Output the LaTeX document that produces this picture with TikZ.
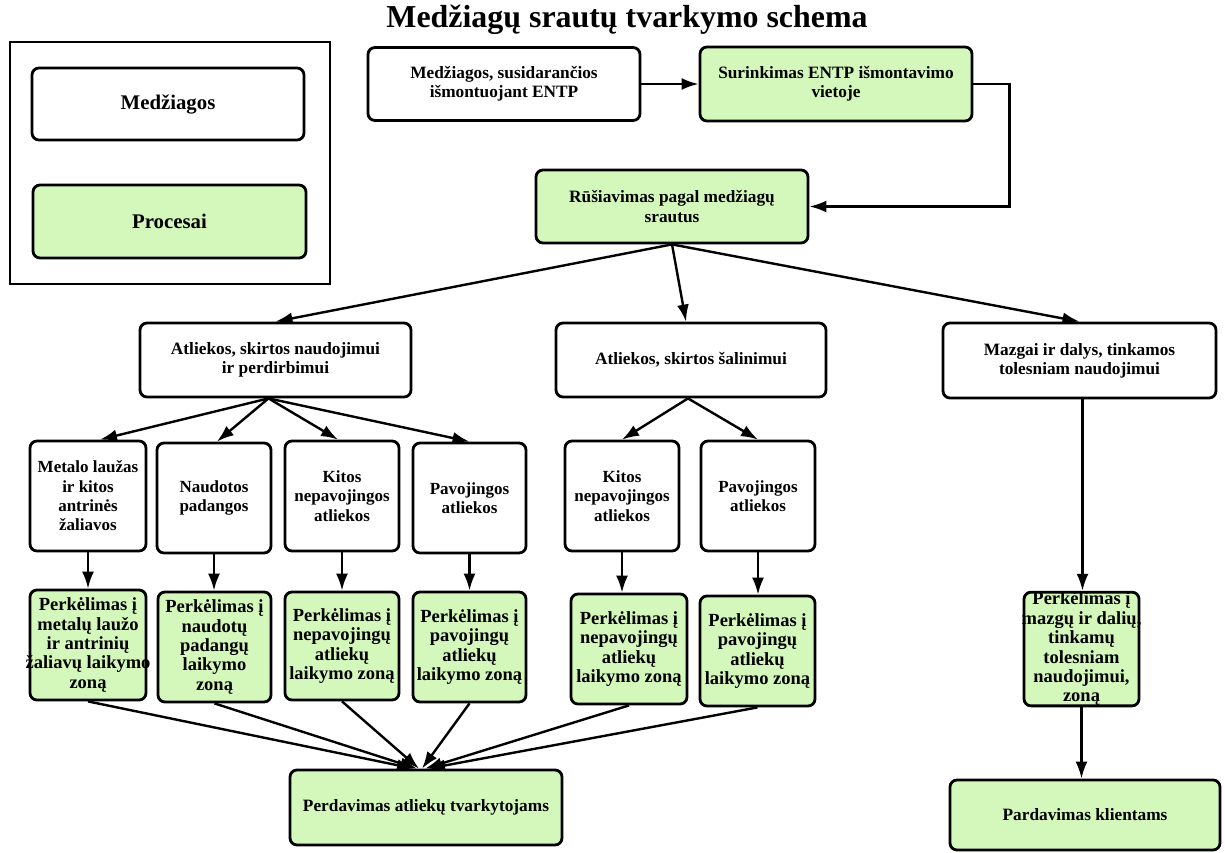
\documentclass[tikz,border=0pt]{standalone}
\usepackage{fontspec}
\setmainfont{Liberation Serif}
\usetikzlibrary{arrows.meta,calc}
\definecolor{procgreen}{RGB}{212,247,188}
\newcommand{\ovl}[1]{\makebox[100pt]{#1}}
\begin{document}
\begin{tikzpicture}[x=1pt,y=-1pt,
  box/.style={draw=black,line width=2.8pt,rounded corners=7pt,inner sep=0pt,
    align=center,font=\fontsize{17.3}{19.3}\bfseries\selectfont},
  matbox/.style={box,fill=white},
  procbox/.style={box,fill=procgreen},
  arr/.style={line width=2.4pt,-{Latex[length=17pt,width=12pt]}},
  big/.style={font=\fontsize{20.8}{24}\bfseries\selectfont},
  rthree/.style={font=\fontsize{17}{19.3}\bfseries\selectfont},
  rfour/.style={font=\fontsize{18.5}{19.4}\bfseries\selectfont}]
\useasboundingbox (0,0) rectangle (1225,852);
% legend
\node[draw=black,line width=2.8pt,minimum width=320pt,minimum height=242pt,inner sep=0pt] (legend) at (170,163) {};
\node[matbox,big,minimum width=272pt,minimum height=72pt] (legM) at (168,104) {Medžiagos};
\node[procbox,big,minimum width=273pt,minimum height=73pt] (legP) at (169.5,221.5) {Procesai};
% title
\node[font=\fontsize{31.9}{36}\bfseries\selectfont,inner sep=0pt] (title) at (627,20) {Medžiagų srautų tvarkymo schema};
% top
\node[matbox,minimum width=272pt,minimum height=73pt] (med) at (504,84) {Medžiagos, susidarančios\\išmontuojant ENTP};
\node[procbox,minimum width=272pt,minimum height=74pt] (sur) at (836,84) {Surinkimas ENTP išmontavimo\\vietoje};
\node[procbox,minimum width=272pt,minimum height=73pt] (rus) at (672,206.5) {Rūšiavimas pagal medžiagų\\srautus};
% level 2
\node[matbox,minimum width=271pt,minimum height=74pt] (an) at (275.5,360) {Atliekos, skirtos naudojimui\\ir perdirbimui};
\node[matbox,minimum width=270pt,minimum height=74pt] (as) at (691,360) {Atliekos, skirtos šalinimui};
\node[matbox,minimum width=273pt,minimum height=75pt] (mz) at (1079.5,360.5) {Mazgai ir dalys, tinkamos\\tolesniam naudojimui};
% level 3
\node[matbox,rthree,minimum width=116pt,minimum height=110pt] (r3a) at (88,496) {Metalo laužas\\ir kitos\\antrinės\\žaliavos};
\node[matbox,rthree,minimum width=114pt,minimum height=110pt] (r3b) at (214,498) {Naudotos\\padangos};
\node[matbox,rthree,minimum width=114pt,minimum height=110pt] (r3c) at (342,496) {Kitos\\nepavojingos\\atliekos};
\node[matbox,rthree,minimum width=113pt,minimum height=110pt] (r3d) at (469.5,498) {Pavojingos\\atliekos};
\node[matbox,rthree,minimum width=114pt,minimum height=110pt] (r3e) at (622,496) {Kitos\\nepavojingos\\atliekos};
\node[matbox,rthree,minimum width=114pt,minimum height=110pt] (r3f) at (758,496) {Pavojingos\\atliekos};
% level 4
\node[procbox,rfour,minimum width=116pt,minimum height=110pt] (r4a) at (88,645) {Perkėlimas į\\metalų laužo\\ir antrinių\\\ovl{žaliavų laikymo}\\zoną};
\node[procbox,rfour,minimum width=113pt,minimum height=110pt] (r4b) at (214.5,647) {Perkėlimas į\\naudotų\\padangų\\laikymo\\zoną};
\node[procbox,rfour,minimum width=114pt,minimum height=108pt] (r4c) at (342,646) {Perkėlimas į\\nepavojingų\\atliekų\\\ovl{laikymo zoną}};
\node[procbox,rfour,minimum width=113pt,minimum height=110pt] (r4d) at (469.5,647) {Perkėlimas į\\pavojingų\\atliekų\\\ovl{laikymo zoną}};
\node[procbox,rfour,minimum width=116pt,minimum height=110pt] (r4e) at (629,649) {Perkėlimas į\\nepavojingų\\atliekų\\\ovl{laikymo zoną}};
\node[procbox,rfour,minimum width=115pt,minimum height=110pt] (r4f) at (757.5,651) {Perkėlimas į\\pavojingų\\atliekų\\\ovl{laikymo zoną}};
\node[procbox,rfour,minimum width=115pt,minimum height=110pt] (r4g) at (1081.5,649) {Perkėlimas į\\\ovl{mazgų ir dalių,}\\tinkamų\\tolesniam\\naudojimui,\\zoną};
% bottom
\node[procbox,minimum width=272pt,minimum height=75pt] (perd) at (426,807.5) {Perdavimas atliekų tvarkytojams};
\node[procbox,minimum width=270pt,minimum height=70pt] (pard) at (1085,815) {Pardavimas klientams};
% connectors
\draw[arr] (med.east) -- (sur.west);
\draw[arr] (sur.east) -- ++(36,0) |- (rus.east);
\draw[arr] (rus.south) -- (an.north);
\draw[arr] (rus.south) -- ($(as.north)+(-5,0)$);
\draw[arr] (rus.south) -- (mz.north);
\coordinate (anb) at ($(an.south)+(-7,0)$);
\draw[arr] (anb) -- ($(r3a.north)+(12,0)$);
\draw[arr] (anb) -- ($(r3b.north)+(3,0)$);
\draw[arr] (anb) -- ($(r3c.north)+(-4,0)$);
\draw[arr] (anb) -- (r3d.north);
\coordinate (asb) at ($(as.south)+(-3,0)$);
\draw[arr] (asb) -- (r3e.north);
\draw[arr] (asb) -- (r3f.north);
\foreach \u/\l in {r3a/r4a,r3b/r4b,r3c/r4c,r3d/r4d,r3e/r4e,r3f/r4f}{
  \draw[arr] (\u.south) -- (\u.south |- \l.north);
}
\draw[arr] ($(mz.south)+(3,0)$) -- ($(mz.south |- r4g.north)+(3,0)$);
\draw[arr] (r4g.south) -- (r4g.south |- pard.north);
\draw[arr] (r4a.south) -- ($(perd.north)+(-12,0)$);
\draw[arr] (r4b.south) -- ($(perd.north)+(-9,0)$);
\draw[arr] (r4c.south) -- ($(perd.north)+(-7,0)$);
\draw[arr] (r4d.south) -- ($(perd.north)+(-4,0)$);
\draw[arr] (r4e.south) -- ($(perd.north)+(-1,0)$);
\draw[arr] (r4f.south) -- ($(perd.north)+(2,0)$);
\end{tikzpicture}
\end{document}
